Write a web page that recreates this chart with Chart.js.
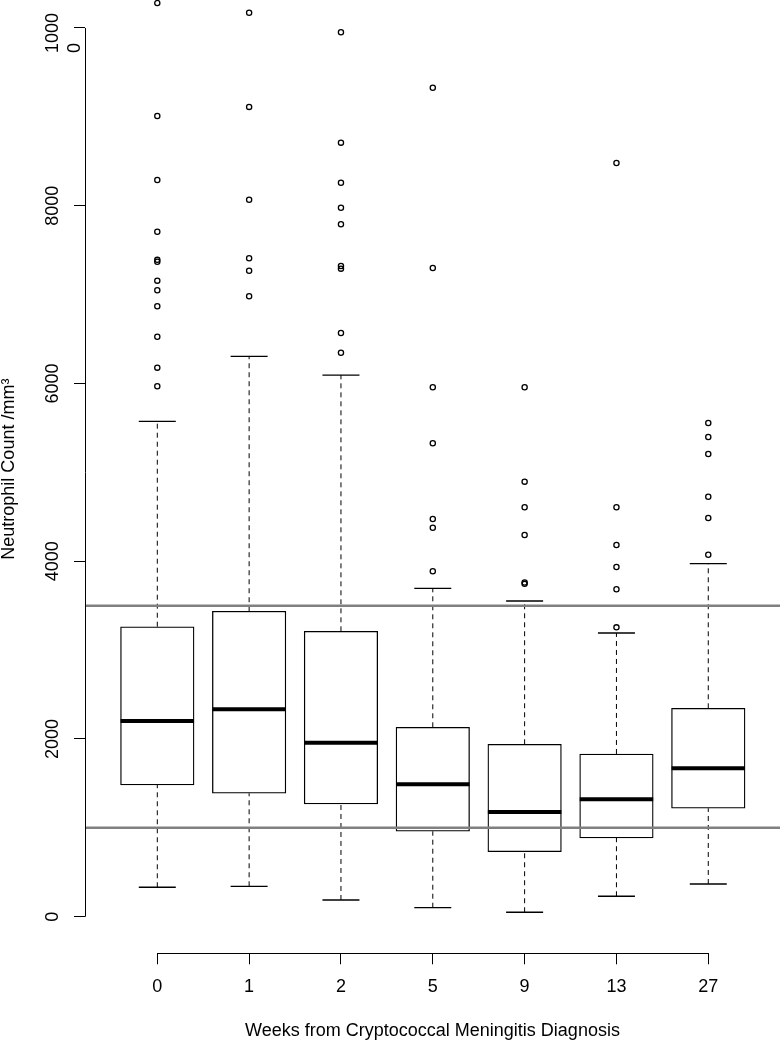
<!DOCTYPE html>
<html>
<head>
<meta charset="utf-8">
<title>Neutrophil count by week</title>
<script src="https://cdn.jsdelivr.net/npm/chart.js@4.4.1/dist/chart.umd.min.js"></script>
<style>
  html, body { margin: 0; padding: 0; background: #fff; }
  #wrap { width: 780px; height: 1042px; }
</style>
</head>
<body>
<div id="wrap"><canvas id="chart" width="780" height="1042"></canvas></div>
<script>
// ---------------------------------------------
// Data
// ---------------------------------------------
const weeks = ['0', '1', '2', '5', '9', '13', '27'];

const lowerWhisker = [331, 342, 188, 101, 50, 230, 368];
const q1 = [1482, 1389, 1268, 961, 731, 886, 1220];
const median = [2202, 2334, 1958, 1490, 1178, 1321, 1670];
const q3 = [3263, 3437, 3211, 2131, 1940, 1831, 2345];
const upperWhisker = [5574, 6306, 6095, 3695, 3552, 3192, 3972];

const outliers = [
  [10281, 9010, 8290, 7708, 7391, 7370, 7157, 7049, 6869, 6526, 6178, 5968],
  [10172, 9112, 8068, 7409, 7269, 6981],
  [9952, 8710, 8259, 7978, 7791, 7322, 7292, 6568, 6346],
  [9328, 7299, 5957, 5327, 4475, 4377, 3887],
  [5957, 4895, 4607, 4295, 3760, 3745],
  [8481, 4607, 4183, 3935, 3684, 3256],
  [5555, 5398, 5207, 4726, 4486, 4073]
];

// normal range lines
const refLines = [1000, 3500];

const yTicks = [0, 2000, 4000, 6000, 8000, 10000];

// ---------------------------------------------
// Scale ranges
// ---------------------------------------------
const X_MIN = 0.2127, X_MAX = 7.781;
const Y_MIN = -412, Y_MAX = 10315;

const xs = weeks.map((w, i) => i + 1);

// whisker segments, null breaks the line between them
const whiskerData = [];
xs.forEach((x, i) => {
  whiskerData.push({ x, y: q3[i] }, { x, y: upperWhisker[i] }, { x, y: null });
  whiskerData.push({ x, y: lowerWhisker[i] }, { x, y: q1[i] }, { x, y: null });
});

const capData = [];
xs.forEach((x, i) => {
  capData.push({ x, y: lowerWhisker[i] }, { x, y: upperWhisker[i] });
});

const outlierData = outliers.flatMap((vals, i) => vals.map((v) => ({ x: i + 1, y: v })));

// ---------------------------------------------
// R style axis lines (only between first and last tick)
// ---------------------------------------------
const crisp = (v) => Math.round(v - 0.5) + 0.5;

const axisLines = {
  id: 'axisLines',
  afterDraw(chart) {
    const { ctx, chartArea, scales } = chart;
    const x = scales.x, y = scales.y;
    ctx.save();
    ctx.strokeStyle = '#000';
    ctx.lineWidth = 1;
    ctx.beginPath();
    const ax = crisp(chartArea.left);
    ctx.moveTo(ax, y.getPixelForValue(yTicks[yTicks.length - 1]));
    ctx.lineTo(ax, y.getPixelForValue(yTicks[0]));
    const ay = crisp(chartArea.bottom);
    ctx.moveTo(x.getPixelForValue(xs[0]), ay);
    ctx.lineTo(x.getPixelForValue(xs[xs.length - 1]), ay);
    ctx.stroke();
    ctx.restore();
  }
};

Chart.defaults.font.family = '"Liberation Sans", Arial, Helvetica, sans-serif';
Chart.defaults.font.size = 18;
Chart.defaults.color = '#000';

new Chart(document.getElementById('chart'), {
  type: 'scatter',
  data: {
    datasets: [
      // reference lines
      ...refLines.map((v) => ({
        type: 'line',
        data: [{ x: X_MIN, y: v }, { x: X_MAX, y: v }],
        borderColor: '#808080',
        borderWidth: 2.5,
        pointRadius: 0,
        order: 0,
        clip: false
      })),
      {
        // medians
        data: xs.map((x, i) => ({ x, y: median[i] })),
        pointStyle: 'line',
        pointRadius: 36.75,
        borderColor: '#000',
        borderWidth: 4,
        order: 1
      },
      {
        // whisker caps
        data: capData,
        pointStyle: 'line',
        pointRadius: 18.5,
        borderColor: '#000',
        borderWidth: 1.3,
        order: 2
      },
      {
        // outliers
        data: outlierData,
        pointStyle: 'circle',
        pointRadius: 2.6,
        borderColor: '#000',
        backgroundColor: 'rgba(0,0,0,0)',
        borderWidth: 1.3,
        order: 2,
        clip: false
      },
      {
        // boxes
        type: 'bar',
        data: xs.map((x, i) => ({ x, y: [q1[i], q3[i]] })),
        backgroundColor: '#fff',
        borderColor: '#000',
        borderWidth: 1.3,
        borderSkipped: false,
        barThickness: 73.5,
        order: 3
      },
      {
        // dashed whiskers
        type: 'line',
        data: whiskerData,
        borderColor: '#000',
        borderWidth: 1,
        borderDash: [5, 4],
        pointRadius: 0,
        spanGaps: false,
        order: 4
      }
    ]
  },
  options: {
    responsive: false,
    animation: false,
    events: [],
    devicePixelRatio: 1,
    layout: { padding: 0, autoPadding: false },
    plugins: {
      legend: { display: false },
      tooltip: { enabled: false }
    },
    scales: {
      x: {
        type: 'linear',
        position: 'bottom',
        min: X_MIN,
        max: X_MAX,
        bounds: 'data',
        offset: false,
        afterBuildTicks: (s) => { s.ticks = xs.map((v) => ({ value: v })); },
        afterFit: (s) => {
          s.height = 88.7;
          s.paddingLeft = 0;
          s.paddingRight = 0;
        },
        border: { display: false },
        grid: {
          offset: false,
          drawOnChartArea: false,
          drawTicks: true,
          tickLength: 11,
          color: '#000',
          lineWidth: 1
        },
        ticks: {
          autoSkip: false,
          maxRotation: 0,
          padding: 12,
          color: '#000',
          font: { size: 18 },
          callback: (v) => weeks[v - 1]
        },
        title: {
          display: true,
          text: 'Weeks from Cryptococcal Meningitis Diagnosis',
          color: '#000',
          font: { size: 18 },
          padding: { top: 5.7, bottom: 0 }
        }
      },
      y: {
        type: 'linear',
        position: 'left',
        min: Y_MIN,
        max: Y_MAX,
        bounds: 'data',
        afterBuildTicks: (s) => { s.ticks = yTicks.map((v) => ({ value: v })); },
        afterFit: (s) => {
          s.width = 85;
          s.paddingTop = 0;
          s.paddingBottom = 0;
        },
        border: { display: false },
        grid: {
          drawOnChartArea: false,
          drawTicks: true,
          tickLength: 11,
          color: '#000',
          lineWidth: 1
        },
        ticks: {
          autoSkip: false,
          minRotation: 90,
          maxRotation: 90,
          crossAlign: 'center',
          padding: -4.5,
          color: '#000',
          font: { size: 18 },
          // the top label comes out wrapped and clipped in the original
          callback: (v) => (v === 10000 ? ['', '1000  ', '0        '] : String(v))
        },
        title: {
          display: true,
          text: '   Neutrophil Count /mm³',
          color: '#000',
          font: { size: 18 },
          padding: { top: -2, bottom: 0 }
        }
      }
    }
  },
  plugins: [axisLines]
});
</script>
</body>
</html>
